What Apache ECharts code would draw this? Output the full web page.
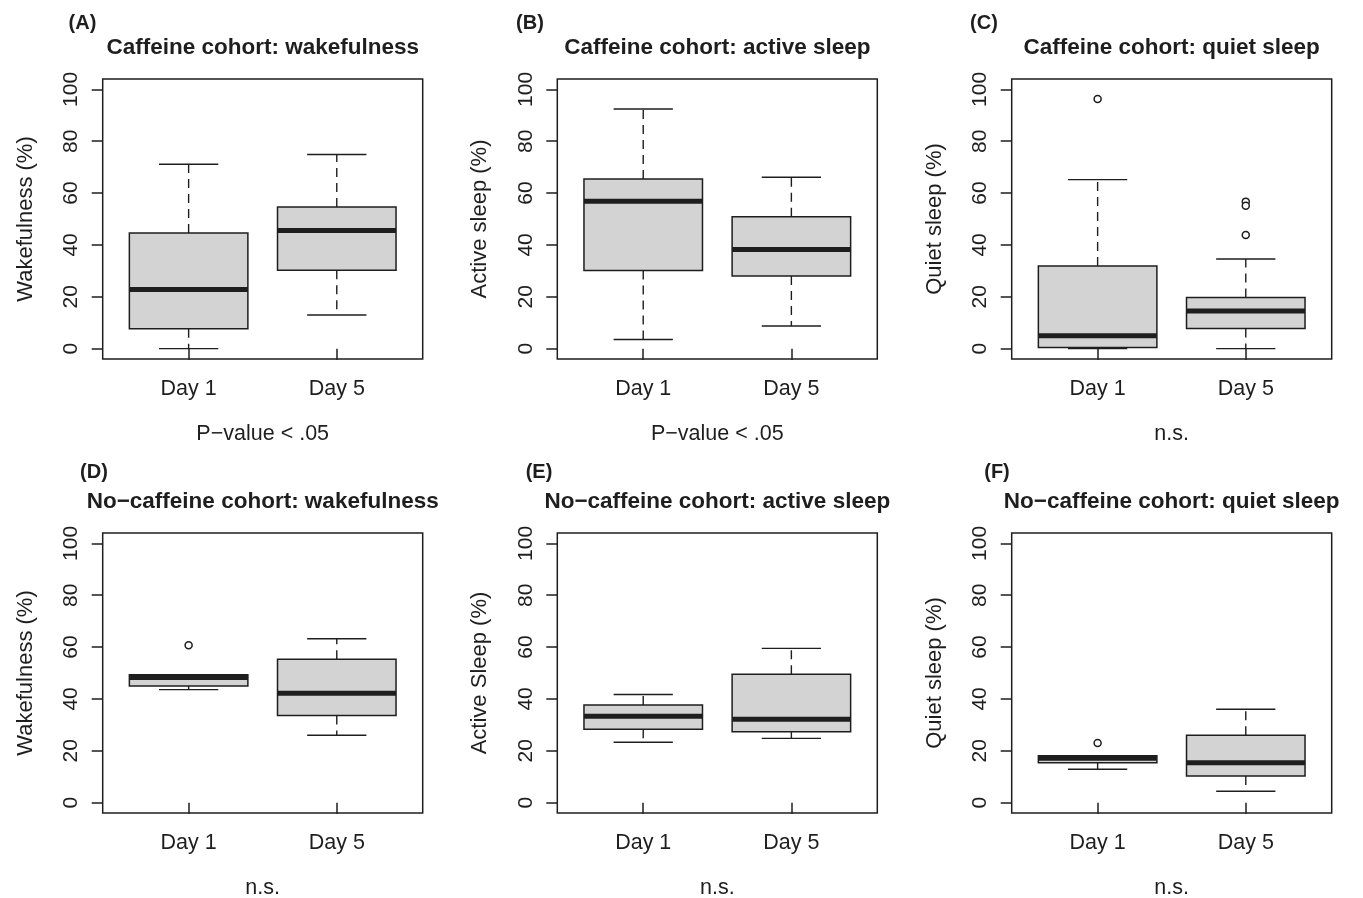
<!DOCTYPE html>
<html>
<head>
<meta charset="utf-8">
<script src="https://cdn.jsdelivr.net/npm/echarts@6/dist/echarts.min.js"></script>
<style>
  html, body { margin: 0; padding: 0; background: #ffffff; }
  #chart { width: 1363px; height: 898px; }
</style>
</head>
<body>
<div id="chart"></div>
<script>
// ---------- data ----------
const categories = ['Day 1', 'Day 5'];
const yTicks = [0, 20, 40, 60, 80, 100];

// box stats per category: [lower whisker, Q1, median, Q3, upper whisker]
const cafWakeStats   = [[0.0, 7.7, 22.8, 44.6, 71.1], [13.0, 30.2, 45.6, 54.6, 74.9]];
const cafActiveStats = [[3.5, 30.1, 56.8, 65.4, 92.4], [8.7, 28.0, 38.2, 50.9, 66.1]];
const cafQuietStats  = [[0.0, 0.4, 5.0, 31.9, 65.2], [0.0, 7.8, 14.5, 19.7, 34.6]];
const noWakeStats    = [[43.6, 45.0, 48.3, 49.3, 49.3], [26.0, 33.6, 42.2, 55.3, 63.2]];
const noActiveStats  = [[23.3, 28.3, 33.3, 37.7, 41.7], [24.8, 27.3, 32.2, 49.5, 59.5]];
const noQuietStats   = [[12.9, 15.4, 17.1, 18.1, 18.1], [4.4, 10.3, 15.4, 26.0, 36.0]];

// outliers per category
const cafWakeOutliers   = [[], []];
const cafActiveOutliers = [[], []];
const cafQuietOutliers  = [[96.3], [56.7, 55.1, 43.8]];
const noWakeOutliers    = [[60.7], []];
const noActiveOutliers  = [[], []];
const noQuietOutliers   = [[23.0], []];

const panelLetters = ['(A)', '(B)', '(C)', '(D)', '(E)', '(F)'];
const panelTitles = [
  'Caffeine cohort: wakefulness',
  'Caffeine cohort: active sleep',
  'Caffeine cohort: quiet sleep',
  'No\u2212caffeine cohort: wakefulness',
  'No\u2212caffeine cohort: active sleep',
  'No\u2212caffeine cohort: quiet sleep'
];
const yAxisNames = ['Wakefulness (%)', 'Active sleep (%)', 'Quiet sleep (%)',
                    'Wakefulness (%)', 'Active Sleep (%)', 'Quiet sleep (%)'];
const footnotes = ['P\u2212value < .05', 'P\u2212value < .05', 'n.s.', 'n.s.', 'n.s.', 'n.s.'];

const panelStats = [cafWakeStats, cafActiveStats, cafQuietStats, noWakeStats, noActiveStats, noQuietStats];
const panelOutliers = [cafWakeOutliers, cafActiveOutliers, cafQuietOutliers, noWakeOutliers, noActiveOutliers, noQuietOutliers];

// ---------- layout ----------
const FONT = '"Liberation Sans", Arial, Helvetica, sans-serif';
const INK = '#1e1e1e';
const colLeft = [102.7, 557.3, 1011.7];
const rowTop = [79, 533];
const gridW = 320, gridH = 280;

const grids = [], xAxes = [], yAxes = [], series = [], graphics = [];

for (let p = 0; p < 6; p++) {
  const col = p % 3, row = Math.floor(p / 3);
  const left = colLeft[col], top = rowTop[row];
  grids.push({
    left: left, top: top, width: gridW, height: gridH,
    containLabel: false, outerBoundsMode: 'none',
    show: true, borderColor: INK, borderWidth: 1.5, backgroundColor: 'transparent'
  });
  xAxes.push({
    gridIndex: p, type: 'value', min: 0.42, max: 2.58,
    axisLine: { show: false },
    splitLine: { show: false },
    axisTick: { show: true, length: 11, customValues: [1, 2], lineStyle: { color: INK, width: 1.5 } },
    axisLabel: {
      customValues: [1, 2], margin: 19,
      formatter: v => categories[Math.round(v) - 1] || '',
      fontFamily: FONT, fontSize: 21.5, color: INK
    },
    name: footnotes[p], nameLocation: 'middle', nameGap: 64,
    nameTextStyle: { fontFamily: FONT, fontSize: 21.5, color: INK }
  });
  yAxes.push({
    gridIndex: p, type: 'value', min: -4, max: 104,
    axisLine: { show: false },
    splitLine: { show: false },
    axisTick: { show: true, length: 11, customValues: yTicks, lineStyle: { color: INK, width: 1.5 } },
    axisLabel: {
      customValues: yTicks, rotate: 90, margin: 21,
      fontFamily: FONT, fontSize: 21, color: INK
    },
    name: yAxisNames[p], nameLocation: 'middle', nameGap: 66,
    nameTextStyle: { fontFamily: FONT, fontSize: 22, color: INK }
  });

  const boxData = panelStats[p].map((s, i) => [i + 1].concat(s));
  series.push({
    type: 'custom', xAxisIndex: p, yAxisIndex: p, clip: false,
    data: boxData,
    renderItem: function (params, api) {
      const x = api.value(0);
      const lo = api.value(1), q1 = api.value(2), med = api.value(3), q3 = api.value(4), hi = api.value(5);
      const halfBox = api.size([0.8, 0])[0] / 2;
      const halfCap = halfBox / 2;
      const cLo = api.coord([x, lo]), cQ1 = api.coord([x, q1]), cMed = api.coord([x, med]);
      const cQ3 = api.coord([x, q3]), cHi = api.coord([x, hi]);
      const cx = cLo[0];
      const lineStyle = { stroke: INK, lineWidth: 1.4, fill: null };
      const dashStyle = { stroke: INK, lineWidth: 1.4, lineDash: [9, 6], fill: null };
      return {
        type: 'group',
        children: [
          { type: 'line', shape: { x1: cx, y1: cQ3[1], x2: cx, y2: cHi[1] }, style: dashStyle },
          { type: 'line', shape: { x1: cx, y1: cQ1[1], x2: cx, y2: cLo[1] }, style: dashStyle },
          { type: 'line', shape: { x1: cx - halfCap, y1: cHi[1], x2: cx + halfCap, y2: cHi[1] }, style: lineStyle },
          { type: 'line', shape: { x1: cx - halfCap, y1: cLo[1], x2: cx + halfCap, y2: cLo[1] }, style: lineStyle },
          { type: 'rect', shape: { x: cx - halfBox, y: cQ3[1], width: 2 * halfBox, height: cQ1[1] - cQ3[1] },
            style: { fill: '#d3d3d3', stroke: INK, lineWidth: 1.5 } },
          { type: 'line', shape: { x1: cx - halfBox, y1: cMed[1], x2: cx + halfBox, y2: cMed[1] },
            style: { stroke: INK, lineWidth: 5, fill: null } }
        ]
      };
    }
  });

  const outPts = [];
  panelOutliers[p].forEach((arr, i) => arr.forEach(v => outPts.push([i + 1, v])));
  series.push({
    type: 'scatter', xAxisIndex: p, yAxisIndex: p,
    data: outPts, symbol: 'circle', symbolSize: 7,
    itemStyle: { color: '#ffffff', borderColor: INK, borderWidth: 1.5, opacity: 1 },
    z: 5,
    silent: true
  });

  graphics.push({
    type: 'text', x: left + gridW / 2, y: top - 31,
    style: { text: panelTitles[p], align: 'center', verticalAlign: 'middle',
             font: 'bold 22.5px ' + FONT, fill: INK }
  });
}

const letterX = [82.5, 530, 984, 94, 539, 997];
const letterY = [23, 23, 23, 472, 472, 472];
for (let p = 0; p < 6; p++) {
  graphics.push({
    type: 'text', x: letterX[p], y: letterY[p],
    style: { text: panelLetters[p], align: 'center', verticalAlign: 'middle',
             font: 'bold 20px ' + FONT, fill: INK }
  });
}

const chart = echarts.init(document.getElementById('chart'), null, { renderer: 'canvas' });
chart.setOption({
  animation: false,
  backgroundColor: '#ffffff',
  grid: grids, xAxis: xAxes, yAxis: yAxes, series: series, graphic: graphics
});
</script>
</body>
</html>
